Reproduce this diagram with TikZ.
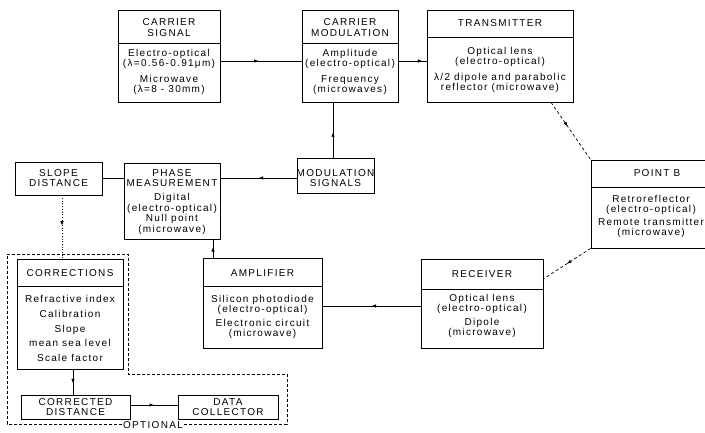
\documentclass[tikz,border=0pt]{standalone}
\usepackage{fontspec}
\setmainfont{Liberation Sans}[LetterSpace=13]
\usetikzlibrary{arrows.meta,decorations.markings}
\begin{document}
\begin{tikzpicture}[x=1pt,y=-1pt,
  boxline/.style={line width=0.7pt},
  box/.style n args={2}{draw,boxline,inner sep=0pt,minimum width=#1pt,minimum height=#2pt},
  txt/.style={align=center,inner sep=0pt,font=\fontsize{10}{9.8}\selectfont},
  conn/.style={line width=0.7pt},
  midarrow/.style={postaction={decorate},decoration={markings,mark=at position #1 with {\arrow{Latex[length=4.5pt,width=3.5pt]}}}},
  dline/.style={conn,dash pattern=on 3pt off 2.5pt},
  optline/.style={line width=0.7pt,dash pattern=on 3pt off 2pt}]
\useasboundingbox (0,0) rectangle (705,432);
\clip (0,0) rectangle (705,432);

% boxes
\node[box={102}{92}] (cs) at (169,56) {};
\node[box={96}{92}] (cm) at (350,56) {};
\node[box={146}{92}] (tx) at (500,56) {};
\node[box={77}{35}] (ms) at (335.5,175.5) {};
\node[box={96}{76}] (pm) at (172,201) {};
\node[box={87}{33}] (sd) at (58.5,178.5) {};
\node[box={131}{88}] (pb) at (656.5,204) {};
\node[box={122}{89}] (rx) at (482,303.5) {};
\node[box={119}{90}] (amp) at (262.5,303) {};
\node[box={106}{110}] (co) at (70,314) {};
\node[box={109}{24}] (cd) at (75.5,407) {};
\node[box={100}{24}] (dc) at (228,407) {};

% dividers
\draw[boxline] (cs.west |- 0,43) -- (cs.east |- 0,43);
\draw[boxline] (cm.west |- 0,43) -- (cm.east |- 0,43);
\draw[boxline] (tx.west |- 0,37) -- (tx.east |- 0,37);
\draw[boxline] (pb.west |- 0,187) -- (pb.east |- 0,187);
\draw[boxline] (rx.west |- 0,289) -- (rx.east |- 0,289);
\draw[boxline] (amp.west |- 0,286) -- (amp.east |- 0,286);
\draw[boxline] (co.west |- 0,286) -- (co.east |- 0,286);

% texts
\node[txt] (csh) at (169,27.5) {CARRIER\\[1pt]SIGNAL};
\node[txt] (csb) at (169,72) {Electro-optical\\(λ=0.56-0.91μm)\\[7pt]Microwave\\(λ=8 - 30mm)};
\node[txt] (cmh) at (350,27.5) {CARRIER\\[1pt]MODULATION};
\node[txt] (cmb) at (350,72) {Amplitude\\(electro-optical)\\[7pt]Frequency\\(microwaves)};
\node[txt] (txh) at (500,23) {TRANSMITTER};
\node[txt] (txb) at (500,70) {Optical lens\\(electro-optical)\\[7pt]λ/2 dipole and parabolic\\reflector (microwave)};
\node[txt] (pbh) at (657,173) {POINT B};
\node[txt] (pbb) at (651,216.5) {Retroreflector\\(electro-optical)\\[4pt]Remote transmitter\\(microwave)};
\node[txt] (mst) at (335.5,178) {MODULATION\\[0.5pt]SIGNALS};
\node[txt] (pmh) at (172,178) {PHASE\\[0.2pt]MEASUREMENT};
\node[txt] (pmb) at (172,214) {Digital\\[0.8pt](electro-optical)\\[0.8pt]Null point\\[0.8pt](microwave)};
\node[txt] (sdt) at (58.5,178) {SLOPE\\[0.5pt]DISTANCE};
\node[txt] (amph) at (262.5,273) {AMPLIFIER};
\node[txt] (ampb) at (262.5,317) {Silicon photodiode\\(electro-optical)\\[4pt]Electronic circuit\\(microwave)};
\node[txt] (rxh) at (482,274) {RECEIVER};
\node[txt] (rxb) at (482,316) {Optical lens\\(electro-optical)\\[4pt]Dipole\\(microwave)};
\node[txt] (coh) at (70,273) {CORRECTIONS};
\node[txt] (cob) at (70,328.5) {Refractive index\\[4.8pt]Calibration\\[4.8pt]Slope\\[4.8pt]mean sea level\\[4.8pt]Scale factor};
\node[txt] (cdt) at (75.5,407) {CORRECTED\\[0.2pt]DISTANCE};
\node[txt] (dct) at (228,407) {DATA\\[0.2pt]COLLECTOR};

% optional region
\draw[optline] (7,254) -- (128,254) -- (128,374) -- (287,374) -- (287,424) -- (7,424) -- cycle;
\node[txt,fill=white,inner sep=1.5pt] (opt) at (153,425) {OPTIONAL};

% connectors
\draw[conn,midarrow=0.47] ([yshift=-5pt]cs.east) -- ([yshift=-5pt]cm.west);
\draw[conn,midarrow=0.85] ([yshift=-5pt]cm.east) -- ([yshift=-5pt]tx.west);
\draw[dline,midarrow=0.42] ([xshift=51pt]tx.south) -- (pb.north west);
\draw[dline,midarrow=0.5] (pb.south west) -- ([yshift=24.5pt]rx.east);
\draw[conn,midarrow=0.5] ([yshift=-2.5pt]rx.west) -- ([yshift=-3pt]amp.east);
\draw[conn,midarrow=0.58] ([xshift=-49.5pt]amp.north) -- ([xshift=41pt]pm.south);
\draw[conn,midarrow=0.46] ([xshift=-2.5pt]ms.north) -- ([xshift=-17pt]cm.south);
\draw[conn,midarrow=0.5] ([yshift=-2.5pt]ms.west) -- ([yshift=23pt]pm.east);
\draw[conn] (sd.east) -- (sd.east -| pm.west);
\draw[conn,dotted,midarrow=0.48] ([xshift=3.5pt]sd.south) -- ([xshift=-8pt]co.north);
\draw[conn,midarrow=0.55] ([xshift=3pt]co.south) -- ([xshift=-2.5pt]cd.north);
\draw[conn,midarrow=0.5] ([yshift=2pt]cd.east) -- ([yshift=2pt]dc.west);
\end{tikzpicture}
\end{document}
